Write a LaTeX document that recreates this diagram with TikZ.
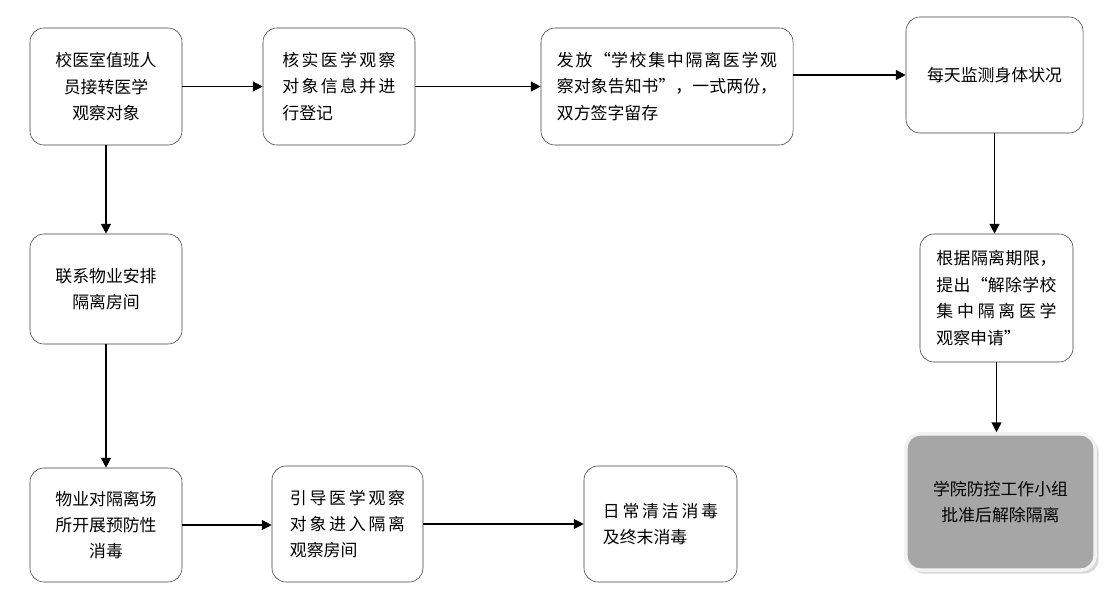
\documentclass[tikz,border=0pt]{standalone}
\usepackage{fontspec}
\setmainfont{Noto Sans CJK SC}
\XeTeXlinebreaklocale "zh"
\XeTeXlinebreakskip=0pt plus 4pt
\usetikzlibrary{arrows.meta,positioning,shadows}
\definecolor{boxline}{RGB}{60, 60, 60}
\definecolor{panel}{RGB}{166, 166, 166}
\definecolor{rim}{RGB}{242, 242, 242}
\newcommand{\flowfont}{\fontsize{12pt}{18.8pt}\selectfont}

\begin{document}
\begin{tikzpicture}[
    x=0.025cm, y=-0.025cm,
    task/.style={rectangle, rounded corners=10pt, draw=boxline, fill=white,
                 minimum width=3.8cm, minimum height=2.925cm, align=center,
                 font=\flowfont, inner sep=2pt},
    taskj/.style={task, align=justify, text width=#1},
    final/.style={rectangle, rounded corners=10pt, draw=rim, line width=2.5pt,
                  fill=panel, minimum width=4.725cm, minimum height=3.4cm,
                  align=center, font=\flowfont,
                  drop shadow={shadow xshift=2.5pt, shadow yshift=-2.5pt, fill=black!30}},
    arrow/.style={-{Triangle[length=7pt, width=7pt]}, line width=0.9pt, black}
]
\useasboundingbox (0,0) rectangle (1113,604);

% Row 1: intake and registration
\node[task] (s0) at (106,86.5) {校医室值班人\\员接转医学\\观察对象};
\node[taskj=2.825cm] (s1) at (339,86.5) {核实医学观察\linebreak 对象信息并进\linebreak 行登记};
\node[taskj=5.5cm, minimum width=6.3cm] (s2) at (667,86.5)
    {发放“学校集中隔离医学观\linebreak 察对象告知书”，一式两份，\linebreak 双方签字留存};
\node[task, minimum width=4.425cm, minimum height=2.9cm] (s3) at (994.5,75) {每天监测身体状况};

% Left column: room and disinfection
\node[task, minimum height=2.75cm] (s4) at (106,289) {联系物业安排\\隔离房间};
\node[task, minimum height=2.85cm] (s5) at (106,525) {物业对隔离场\\所开展预防性\\消毒};

% Row 3: guidance and cleaning
\node[taskj=2.875cm, minimum width=3.775cm, minimum height=2.9cm] (s6) at (347.5,524)
    {引导医学观察\linebreak 对象进入隔离\linebreak 观察房间};
\node[taskj=2.875cm, minimum width=3.825cm, minimum height=2.9cm] (s7) at (660.5,524)
    {日常清洁消毒\linebreak 及终末消毒};

% Right column: application and release
\node[taskj=3.0cm, minimum width=3.825cm, minimum height=3.2cm] (s8) at (996.5,298)
    {根据隔离期限，\linebreak 提出“解除学校\linebreak 集中隔离医学\linebreak 观察申请”};
\node[final] (s9) at (1000.5,502) {学院防控工作小组\\批准后解除隔离};

% Arrows
\draw[arrow] (s0) -- (s1);
\draw[arrow] (s1) -- (s2);
\draw[arrow] (s2.east |- s3) -- (s3);
\draw[arrow] (s0) -- (s4);
\draw[arrow] (s4) -- (s5);
\draw[arrow] (s5.east) -- (s5.east -| s6.west);
\draw[arrow] (s6) -- (s7);
\draw[arrow] (s3) -- (s3 |- s8.north);
\draw[arrow] (s8) -- (s8 |- s9.north);
\end{tikzpicture}
\end{document}
